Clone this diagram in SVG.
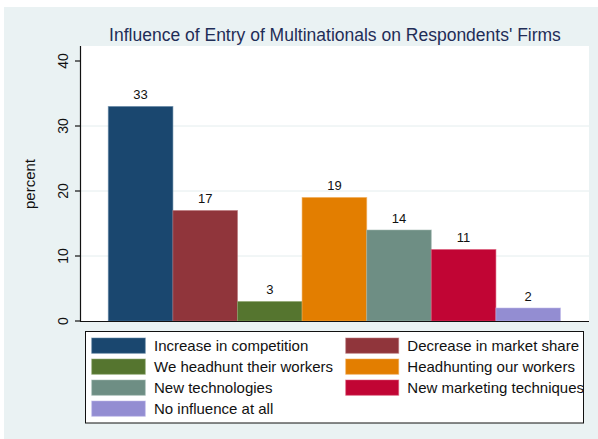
<svg xmlns="http://www.w3.org/2000/svg" width="598" height="439" viewBox="0 0 598 439">
<style>
text{font-family:"Liberation Sans",Arial,sans-serif}
.title{font-size:17.5px;fill:#1F2D57;text-anchor:middle}
.tick{font-size:14px;fill:#111;text-anchor:middle}
.val{font-size:13px;fill:#111;text-anchor:middle}
.leg{font-size:15px;fill:#111}
.grid{stroke:#E4EDEE;stroke-width:1}
.axis{stroke:#111;stroke-width:1.2;fill:none}
.bar{stroke-width:1;stroke-opacity:0.55}
</style>
<rect x="0" y="0" width="598" height="439" fill="#fff"/>
<rect x="4" y="7" width="594" height="432" fill="#EAF2F3"/>
<rect x="81" y="46" width="508" height="275" fill="#fff"/>
<text class="title" x="335" y="40.5">Influence of Entry of Multinationals on Respondents' Firms</text>
<g id="grid">
<line class="grid" x1="81" y1="256" x2="589" y2="256"/>
<line class="grid" x1="81" y1="191" x2="589" y2="191"/>
<line class="grid" x1="81" y1="126" x2="589" y2="126"/>
</g>
<g id="bars">
<g id="bar1"><rect class="bar" x="108.3" y="106.5" width="64.6" height="214.5" fill="#1A476F" stroke="#5A7FA0"/><text class="val" x="140.6" y="99">33</text></g>
<g id="bar2"><rect class="bar" x="172.9" y="210.5" width="64.6" height="110.5" fill="#90353B" stroke="#B87278"/><text class="val" x="205.2" y="203">17</text></g>
<g id="bar3"><rect class="bar" x="237.5" y="301.5" width="64.6" height="19.5" fill="#55752F" stroke="#8AA46A"/><text class="val" x="269.8" y="294">3</text></g>
<g id="bar4"><rect class="bar" x="302.1" y="197.5" width="64.6" height="123.5" fill="#E37E00" stroke="#F0A850"/><text class="val" x="334.4" y="190">19</text></g>
<g id="bar5"><rect class="bar" x="366.7" y="230" width="64.6" height="91" fill="#6E8E84" stroke="#A0B8B0"/><text class="val" x="399" y="222.5">14</text></g>
<g id="bar6"><rect class="bar" x="431.3" y="249.5" width="64.6" height="71.5" fill="#C10534" stroke="#DA5575"/><text class="val" x="463.6" y="242">11</text></g>
<g id="bar7"><rect class="bar" x="495.9" y="308" width="64.6" height="13" fill="#938DD2" stroke="#BDB8EA"/><text class="val" x="528.2" y="300.5">2</text></g>
</g>
<g id="axes">
<line class="axis" x1="80.5" y1="46" x2="80.5" y2="321.5"/>
<line class="axis" x1="80" y1="321.5" x2="589" y2="321.5"/>
<line class="axis" x1="75" y1="61" x2="80.5" y2="61"/>
<line class="axis" x1="75" y1="126" x2="80.5" y2="126"/>
<line class="axis" x1="75" y1="191" x2="80.5" y2="191"/>
<line class="axis" x1="75" y1="256" x2="80.5" y2="256"/>
<line class="axis" x1="75" y1="321" x2="80.5" y2="321"/>
<text class="tick" transform="translate(68.3,61) rotate(-90)">40</text>
<text class="tick" transform="translate(68.3,126) rotate(-90)">30</text>
<text class="tick" transform="translate(68.3,191) rotate(-90)">20</text>
<text class="tick" transform="translate(68.3,256) rotate(-90)">10</text>
<text class="tick" transform="translate(68.3,321) rotate(-90)">0</text>
<text class="leg" text-anchor="middle" transform="translate(35,184) rotate(-90)">percent</text>
</g>
<g id="legend">
<rect x="85.5" y="331.5" width="498" height="91.5" fill="#fff" stroke="#111" stroke-width="1"/>
<rect class="bar" x="91.7" y="338" width="53.6" height="15.3" fill="#1A476F" stroke="#5A7FA0"/>
<text class="leg" x="154" y="350.7">Increase in competition</text>
<rect class="bar" x="91.7" y="359" width="53.6" height="15.3" fill="#55752F" stroke="#8AA46A"/>
<text class="leg" x="154" y="371.7">We headhunt their workers</text>
<rect class="bar" x="91.7" y="380" width="53.6" height="15.3" fill="#6E8E84" stroke="#A0B8B0"/>
<text class="leg" x="154" y="392.7">New technologies</text>
<rect class="bar" x="91.7" y="401" width="53.6" height="15.3" fill="#938DD2" stroke="#BDB8EA"/>
<text class="leg" x="154" y="413.7">No influence at all</text>
<rect class="bar" x="345.7" y="338" width="53" height="15.3" fill="#90353B" stroke="#B87278"/>
<text class="leg" x="407.3" y="350.7">Decrease in market share</text>
<rect class="bar" x="345.7" y="359" width="53" height="15.3" fill="#E37E00" stroke="#F0A850"/>
<text class="leg" x="407.3" y="371.7">Headhunting our workers</text>
<rect class="bar" x="345.7" y="380" width="53" height="15.3" fill="#C10534" stroke="#DA5575"/>
<text class="leg" x="407.3" y="392.7">New marketing techniques</text>
</g>
</svg>
